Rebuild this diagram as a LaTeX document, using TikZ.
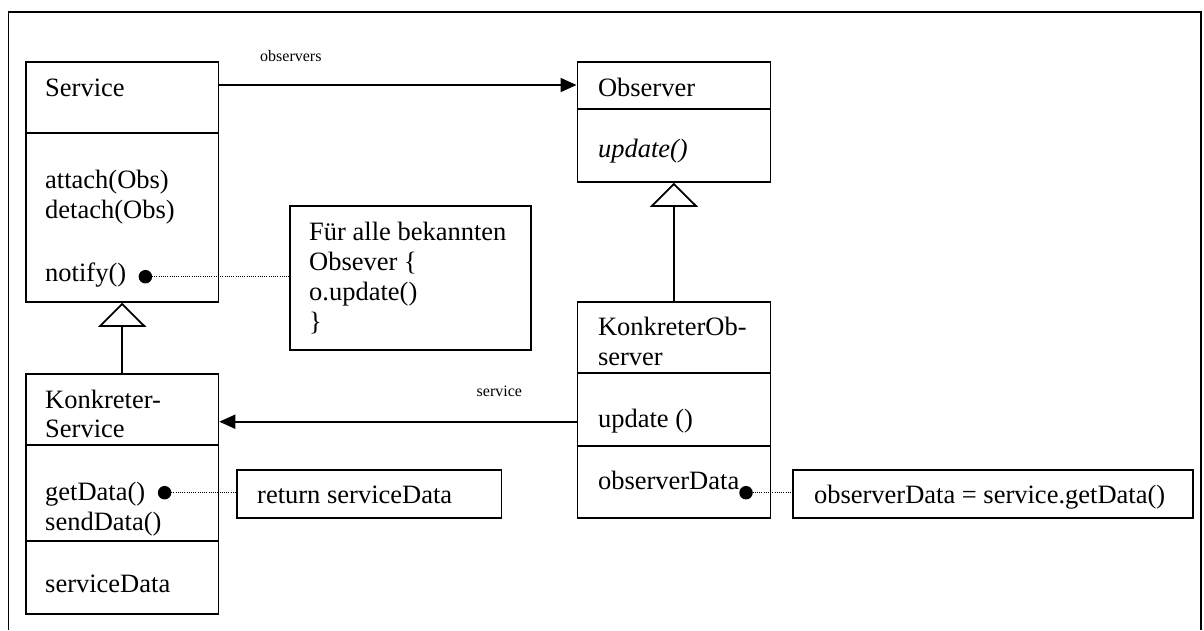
\documentclass[tikz,border=0pt]{standalone}
\usepackage{fontspec}
\setmainfont{Liberation Serif}
\usetikzlibrary{arrows.meta}
\begin{document}
\begin{tikzpicture}[x=1pt,y=-1pt,
  box/.style={draw, line width=1.8pt, inner sep=0pt, anchor=north west},
  divider/.style={line width=1.8pt},
  txt/.style={anchor=base west, inner sep=0pt, font=\fontsize{26.5}{30}\selectfont},
  small/.style={anchor=base west, inner sep=0pt, font=\fontsize{16}{19}\selectfont},
  assoc/.style={line width=1.8pt, -{Triangle[length=16pt,width=14pt]}},
  inherit/.style={line width=1.8pt, -{Triangle[open,length=24pt,width=48pt,line width=1.8pt]}},
  dotline/.style={line width=1pt, dash pattern=on 1pt off 1.2pt},
  bullet/.style={circle, fill, inner sep=0pt, minimum size=13.5pt},
  frame/.style={line width=1.8pt},
]
\fill[white] (0,0) rectangle (1204,630);
\useasboundingbox (0,0) rectangle (1204,630);

% outer frame (open at the bottom)
\draw[frame] (8.4,630) -- (8.4,11.7) -- (1200.7,11.7) -- (1200.7,630);

% class boxes
\node[box, minimum width=192.5pt, minimum height=240pt] (service) at (25,61) {};
\node[box, minimum width=193pt, minimum height=120pt] (observer) at (576.5,61) {};
\node[box, minimum width=192.5pt, minimum height=240.6pt] (kservice) at (25,372.7) {};
\node[box, minimum width=193pt, minimum height=216.3pt] (kobserver) at (576.5,301) {};

% notes
\node[box, minimum width=241pt, minimum height=144.3pt] (note1) at (289,205) {};
\node[box, minimum width=264.6pt, minimum height=48pt] (note2) at (236,469.3) {};
\node[box, minimum width=400.4pt, minimum height=48pt] (note3) at (792,469.3) {};

% dividers
\draw[divider] (service.west |- 0,132.7) -- (service.east |- 0,132.7);
\draw[divider] (observer.west |- 0,109) -- (observer.east |- 0,109);
\draw[divider] (kservice.west |- 0,445) -- (kservice.east |- 0,445);
\draw[divider] (kservice.west |- 0,540.7) -- (kservice.east |- 0,540.7);
\draw[divider] (kobserver.west |- 0,373.3) -- (kobserver.east |- 0,373.3);
\draw[divider] (kobserver.west |- 0,445.7) -- (kobserver.east |- 0,445.7);

% texts: Service
\node[txt] (sT) at (45,96.7) {Service};
\node[txt] (sA) at (45,188) {attach(Obs)};
\node[txt] (sD) at (45,218) {detach(Obs)};
\node[txt] (sN) at (45,281.7) {notify()};
% Observer
\node[txt] (oT) at (597.8,96.7) {Observer};
\node[txt] (oU) at (597.8,157) {\itshape update()};
% KonkreterService
\node[txt] (ksT1) at (45,408.3) {Konkreter-};
\node[txt] (ksT2) at (45,437.3) {Service};
\node[txt] (ksG) at (45,500) {getData()};
\node[txt] (ksS) at (45,530) {sendData()};
\node[txt] (ksD) at (45,592.7) {serviceData};
% KonkreterObserver
\node[txt] (koT1) at (597.8,335.7) {KonkreterOb-};
\node[txt] (koT2) at (597.8,365) {server};
\node[txt] (koU) at (597.8,427.3) {update ()};
\node[txt] (koD) at (597.8,489.3) {observerData};
% notes text
\node[txt] (n1a) at (309,240) {Für alle bekannten};
\node[txt] (n1b) at (309,270) {Obsever \{};
\node[txt] (n1c) at (309,300) {o.update()};
\node[txt] (n1d) at (309,330) {\}};
\node[txt] (n2) at (257,503.3) {return serviceData};
\node[txt] (n3) at (813.8,503.3) {observerData = service.getData()};
% role labels
\node[small] (lobs) at (260,61) {observers};
\node[small] (lsrv) at (476.5,396.7) {service};

% bullets and dotted note links
\node[bullet] (b1) at (145.4,276.7) {};
\node[bullet] (b2) at (164.6,492.7) {};
\node[bullet] (b3) at (746,492.7) {};
\draw[dotline] (b1.center) -- (note1.west |- b1.center);
\draw[dotline] (b2.center) -- (note2.west |- b2.center);
\draw[dotline] (b3.center) -- (note3.west |- b3.center);

% associations
\draw[assoc] (service.east |- 0,85) -- (observer.west |- 0,85);
\draw[assoc] (kobserver.west |- 0,421.7) -- (kservice.east |- 0,421.7);

% generalisations
\draw[inherit] (kservice.north) -- (service.south);
\draw[inherit] (kobserver.north) -- (observer.south);
\end{tikzpicture}
\end{document}
